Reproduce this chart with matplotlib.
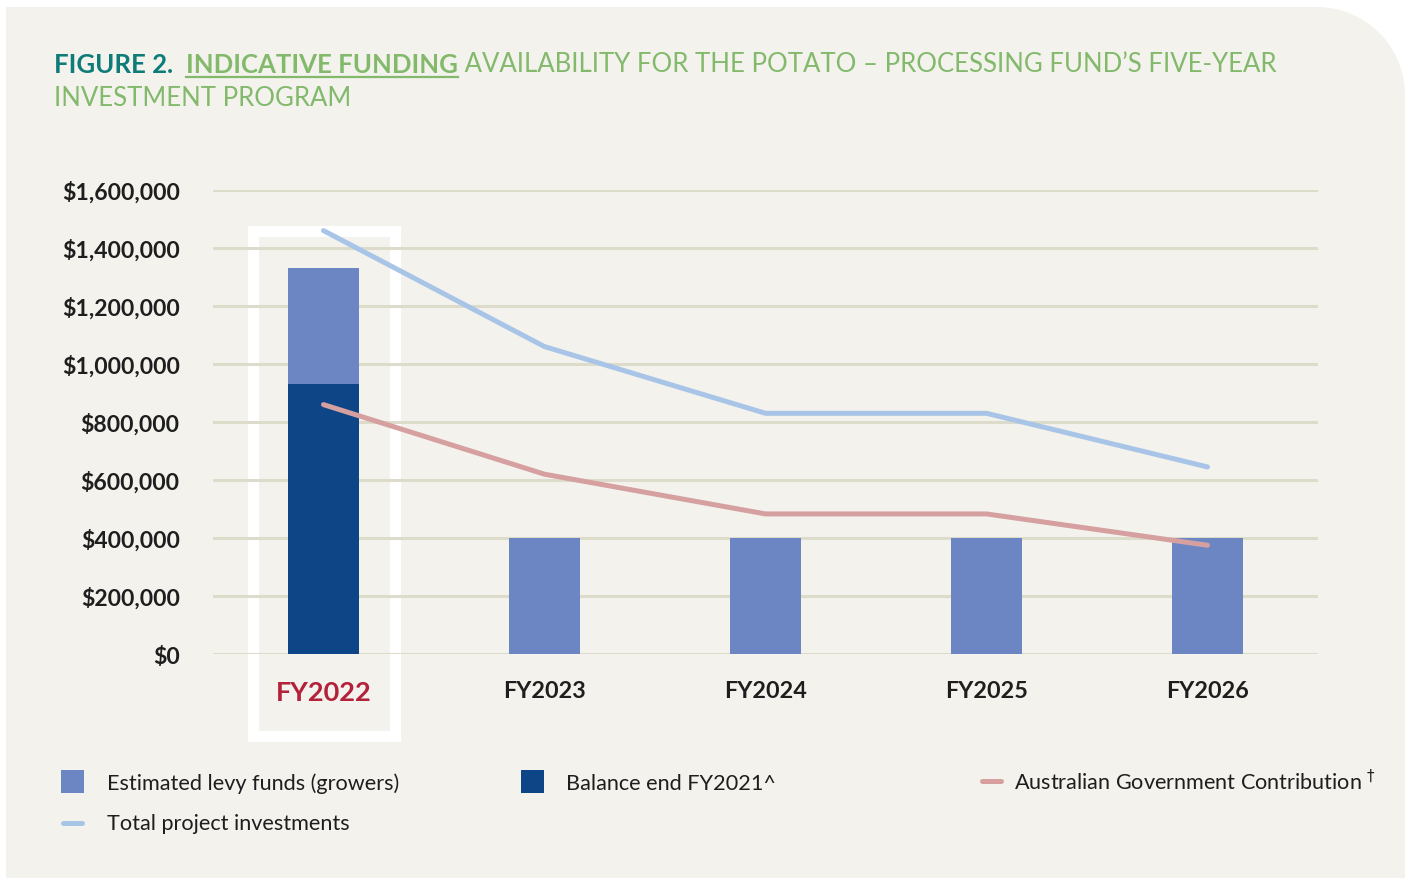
import matplotlib
matplotlib.use("Agg")
import matplotlib.pyplot as plt
from matplotlib.patches import Rectangle, PathPatch
from matplotlib.path import Path
from matplotlib.lines import Line2D
import numpy as np

# ---- data ----
categories = ["FY2022", "FY2023", "FY2024", "FY2025", "FY2026"]
balance_end_fy2021 = [930000, 0, 0, 0, 0]
levy_funds = [400000, 400000, 400000, 400000, 400000]
total_project_investments = [1460000, 1060000, 830000, 830000, 645000]
gov_contribution = [860000, 620000, 483000, 483000, 375000]
y_ticks = [0, 200000, 400000, 600000, 800000, 1000000, 1200000, 1400000, 1600000]

# ---- style ----
W, H = 1410, 879
BG = "#f3f2ed"
LEVY = "#6b86c2"
DARK = "#0e4586"
BLUE_LINE = "#a8c5e8"
PINK_LINE = "#d6a0a1"
GRID = "#dddccb"
TEAL = "#0d7c78"
GREEN = "#82b96b"
RED = "#b3213a"
TXT = "#1e1e1e"
FONT = "Lato"

plt.rcParams["font.family"] = [FONT, "DejaVu Sans"]

fig = plt.figure(figsize=(W / 100, H / 100), dpi=100)
fig.patch.set_facecolor("white")

def fx(px):
    return px / W

def fy(py):
    return 1 - py / H

# panel background with rounded top-right corner
x0, x1, yt, yb = 6, 1405, 8, 879
r = 88
k = 0.5523
verts = [
    (fx(x0), fy(yb)), (fx(x0), fy(yt)), (fx(x1 - r), fy(yt)),
    (fx(x1 - r + r * k), fy(yt)), (fx(x1), fy(yt + r - r * k)), (fx(x1), fy(yt + r)),
    (fx(x1), fy(yb)), (fx(x0), fy(yb)),
]
codes = [Path.MOVETO, Path.LINETO, Path.LINETO, Path.CURVE4, Path.CURVE4, Path.CURVE4,
         Path.LINETO, Path.CLOSEPOLY]
fig.patches.append(PathPatch(Path(verts, codes), transform=fig.transFigure,
                             facecolor=BG, edgecolor="none", zorder=-2))

# highlight frame around FY2022
fig.patches.append(Rectangle((fx(252.5), fy(736.5)), fx(142), (736.5 - 231.5) / H,
                             transform=fig.transFigure, facecolor="none",
                             edgecolor="white", linewidth=11 * 0.72, zorder=-1))

# axes
ax = fig.add_axes([fx(213), fy(655), fx(1318) - fx(213), fy(191) - fy(655)])
ax.set_facecolor("none")
x = np.arange(len(categories))
bw = 0.317
ax.bar(x, balance_end_fy2021, width=bw, color=DARK, zorder=3)
ax.bar(x, levy_funds, width=bw, bottom=balance_end_fy2021, color=LEVY, zorder=3)
ax.plot(x, total_project_investments, color=BLUE_LINE, lw=3.6, solid_capstyle="round",
        solid_joinstyle="round", zorder=4)
ax.plot(x, gov_contribution, color=PINK_LINE, lw=3.6, solid_capstyle="round",
        solid_joinstyle="round", zorder=4)

ax.set_xlim(-0.5, 4.5)
ax.set_ylim(0, 1600000)
ax.set_yticks(y_ticks)
ax.set_yticklabels([f"${v:,.0f}" for v in y_ticks], fontsize=16.6, fontweight="bold", color=TXT)
ax.yaxis.grid(True, color=GRID, lw=2.2, zorder=0)
ax.set_axisbelow(True)
for s in ax.spines.values():
    s.set_visible(False)
ax.tick_params(axis="y", length=0, pad=24)
ax.set_xticks(x)
ax.set_xticklabels(categories, fontsize=16.8, fontweight="bold", color=TXT)
ax.tick_params(axis="x", length=0, pad=19)
lbl = ax.get_xticklabels()[0]
lbl.set_color(RED)
lbl.set_fontsize(19.5)

# title
renderer = fig.canvas.get_renderer()
tx = 54
ty = fy(65)
pieces = [("FIGURE 2.  ", TEAL, "bold", False),
          ("INDICATIVE FUNDING", GREEN, "bold", True),
          (" AVAILABILITY FOR THE POTATO \u2013 PROCESSING FUND\u2019S FIVE-YEAR", GREEN, "normal", False)]
for txt, col, wt, ul in pieces:
    t = fig.text(fx(tx), ty, txt, color=col, fontsize=18.5, fontweight=wt, va="center", ha="left")
    bb = t.get_window_extent(renderer)
    if ul:
        fig.add_artist(Line2D([fx(tx), fx(tx + bb.width)], [fy(78), fy(78)],
                              transform=fig.transFigure, color=GREEN, lw=1.6))
    tx += bb.width
fig.text(fx(54), fy(98), "INVESTMENT PROGRAM", color=GREEN, fontsize=18.5, va="center", ha="left")

# legend (manual layout)
def sq(xp, yp, col):
    fig.patches.append(Rectangle((fx(xp), fy(yp + 23)), fx(23), 23 / H, transform=fig.transFigure,
                                 facecolor=col, edgecolor="none"))

def ln(xp, yp, col):
    fig.add_artist(Line2D([fx(xp + 2), fx(xp + 21)], [fy(yp), fy(yp)], transform=fig.transFigure,
                          color=col, lw=3.6, solid_capstyle="round"))

LFS = 15.6
sq(61, 771, LEVY)
fig.text(fx(107), fy(784), "Estimated levy funds (growers)", fontsize=LFS, color=TXT, va="center")
sq(521, 771, DARK)
fig.text(fx(566), fy(784), "Balance end FY2021^", fontsize=LFS, color=TXT, va="center")
ln(980, 782, PINK_LINE)
fig.text(fx(1014), fy(782), "Australian Government Contribution $^{\u2020}$", fontsize=LFS, color=TXT, va="center")
ln(61, 824, BLUE_LINE)
fig.text(fx(107), fy(824), "Total project investments", fontsize=LFS, color=TXT, va="center")

fig.savefig("out.png", dpi=100, facecolor=fig.get_facecolor())
